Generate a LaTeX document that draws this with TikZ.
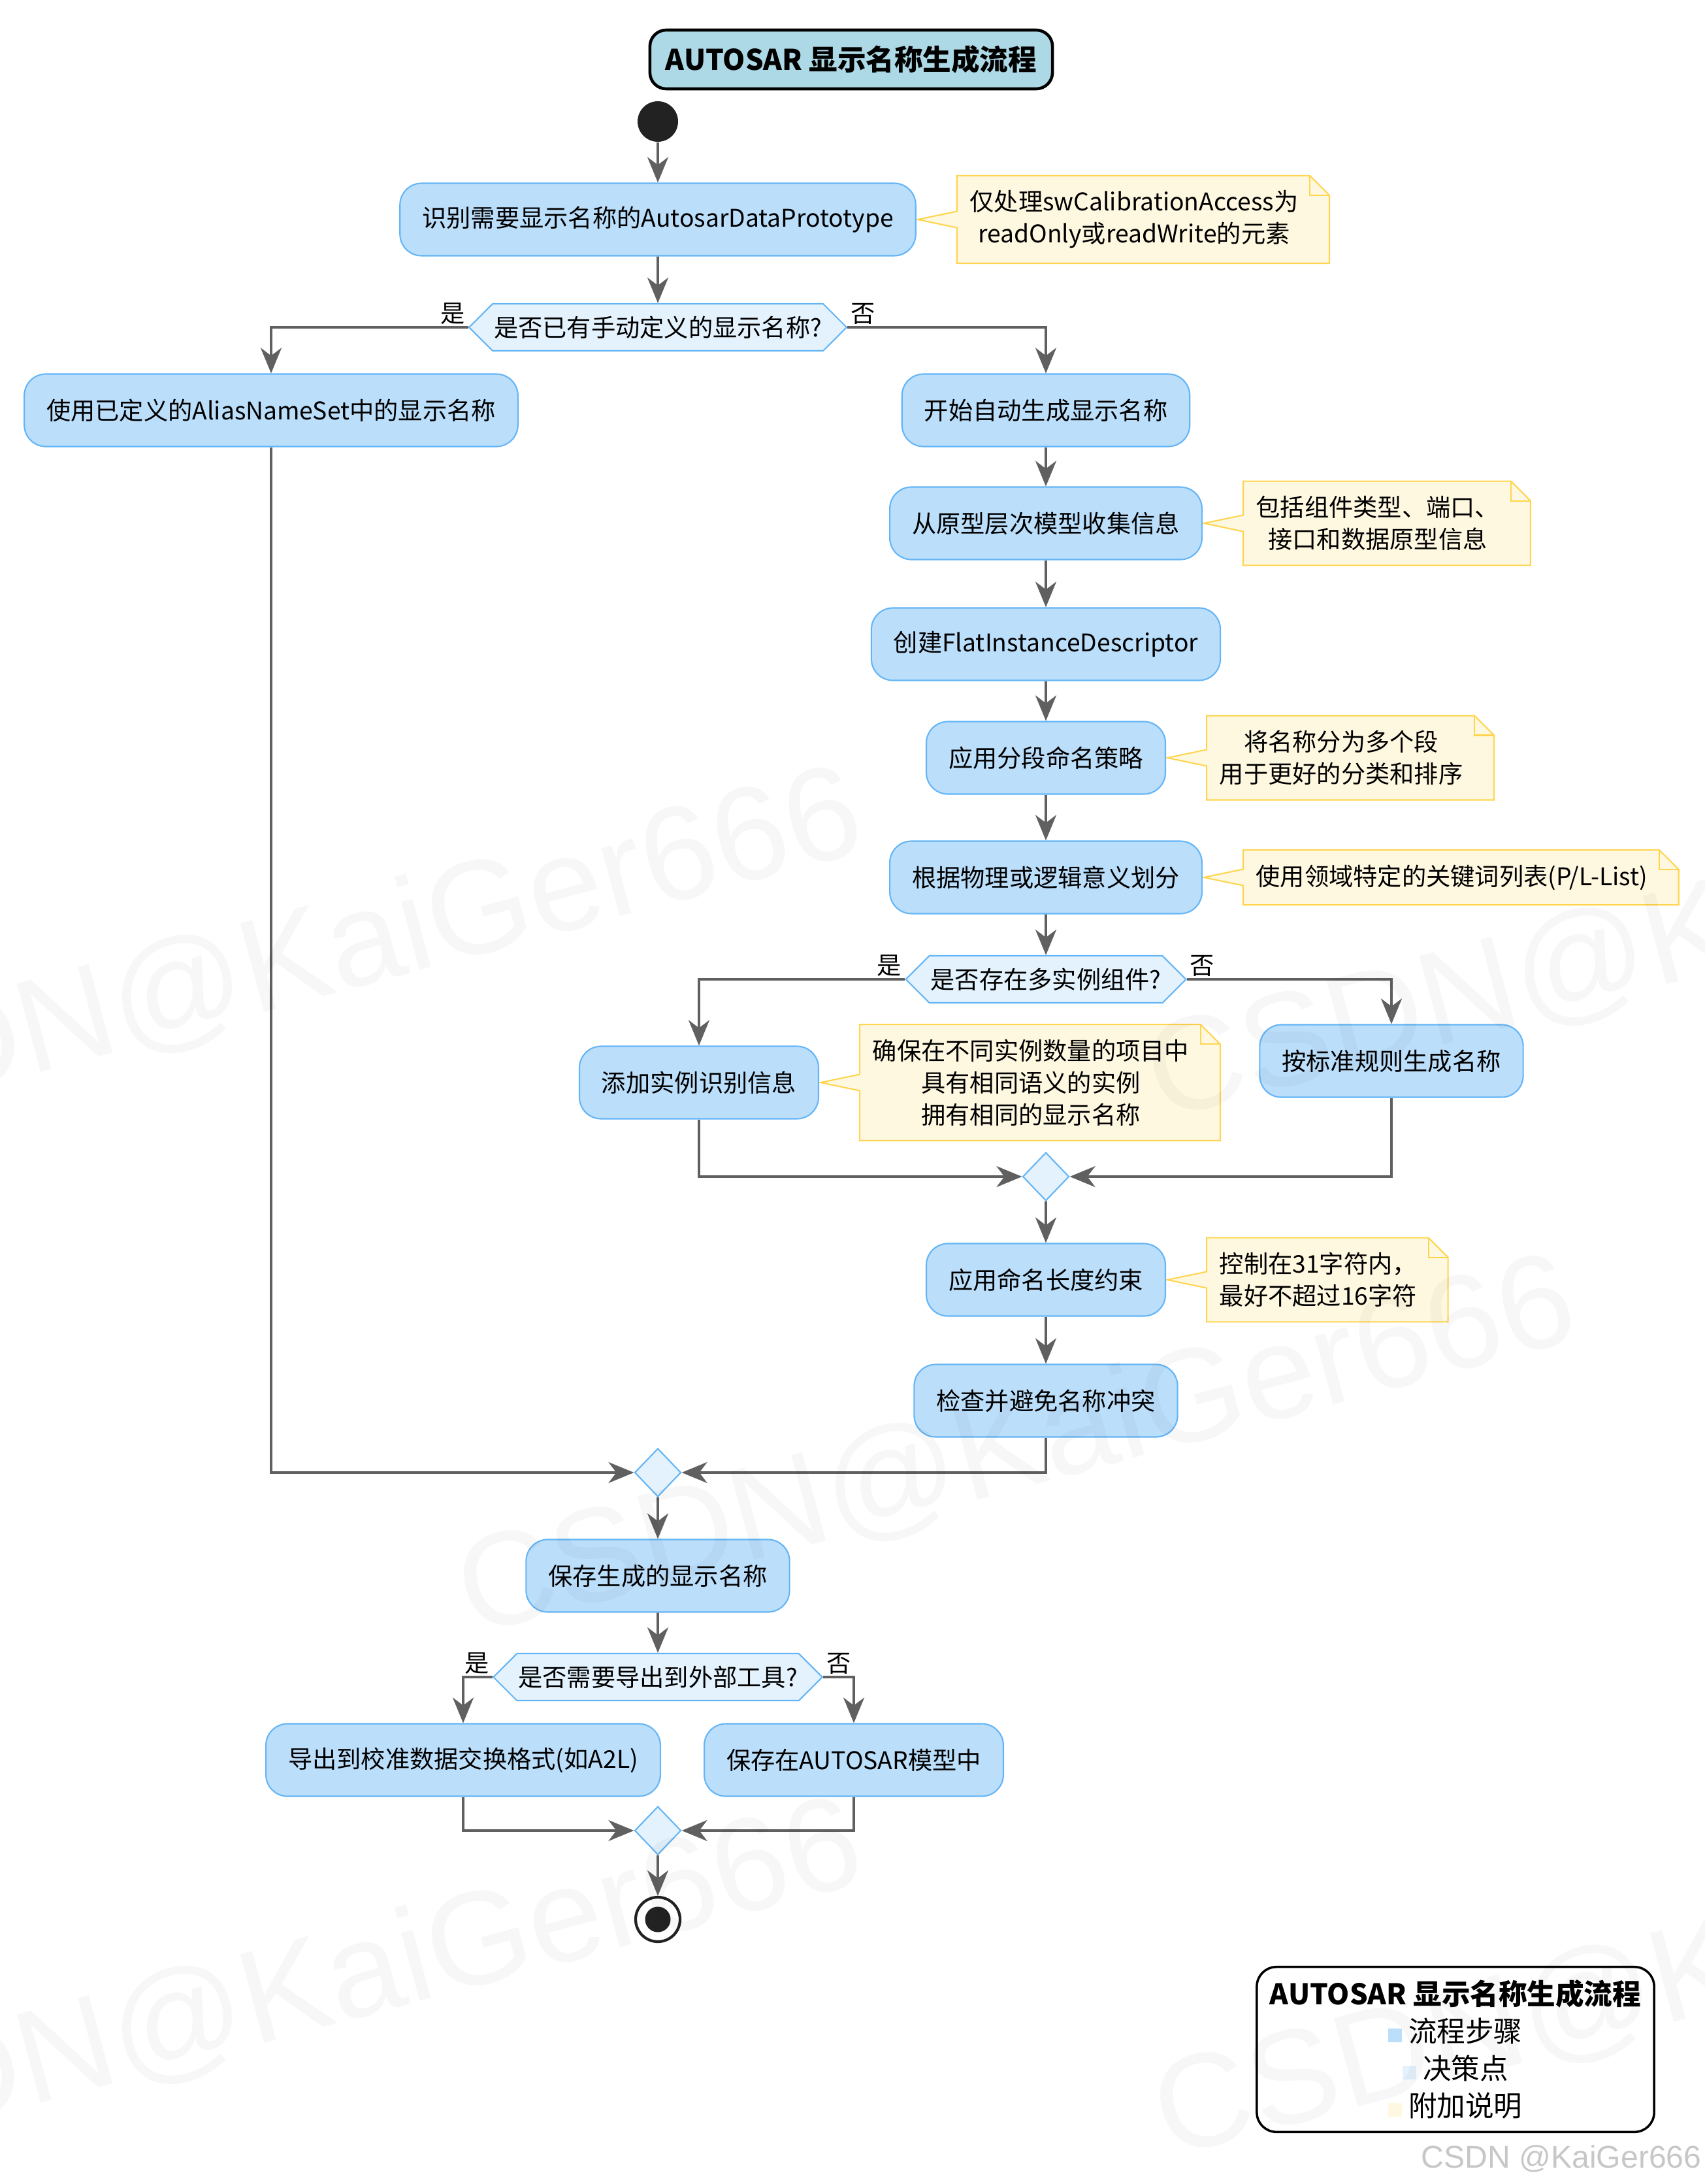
\documentclass[tikz,border=0pt]{standalone}
\usepackage{fontspec}
\setmainfont{Noto Sans CJK SC}
\newfontfamily\wmfont{Liberation Sans}
\usetikzlibrary{calc, backgrounds, positioning, shapes.geometric, shapes.symbols, arrows.meta}
\definecolor{actfill}{HTML}{BBDEFB}
\definecolor{actline}{HTML}{64B5F6}
\definecolor{decfill}{HTML}{E3F2FD}
\definecolor{notefill}{HTML}{FFF8E1}
\definecolor{noteline}{HTML}{FFD54F}
\definecolor{flowgray}{HTML}{606060}
\definecolor{titlefill}{HTML}{ADD8E6}
\definecolor{dotfill}{HTML}{222222}

\tikzset{
    act/.style={draw=actline, fill=actfill, line width=0.6pt, rounded corners=0.33cm,
        minimum height=1.11cm, inner xsep=0.34cm},
    decision/.style={signal, signal to=west and east, signal pointer angle=90,
        draw=actline, fill=decfill, line width=0.6pt, minimum height=0.72cm,
        inner xsep=0.02cm, inner ysep=0pt},
    merge/.style={diamond, draw=actline, fill=decfill, line width=0.6pt,
        minimum width=0.71cm, minimum height=0.74cm, inner sep=0pt},
    notetext/.style={align=center, inner xsep=0.19cm, inner ysep=0.22cm},
    flow/.style={draw=flowgray, line width=1.1pt,
        -{Stealth[length=0.39cm, width=0.32cm, inset=0.12cm]}},
    lbl/.style={inner sep=0.03cm},
    wmark/.style={font=\wmfont\fontsize{58pt}{58pt}\selectfont, text=black, text opacity=0.03, rotate=15},
}

% Notizzettel: Rechteck mit Eselsohr und Zeiger nach links
\newcommand{\notebody}[1]{%
    \filldraw[fill=notefill, draw=noteline, line width=0.6pt]
        (#1.north west) -- ($(#1.north east)+(-0.02,0)$) -- ($(#1.north east)+(0.28,-0.30)$)
        -- ($(#1.south east)+(0.28,0)$) -- (#1.south west) -- ($(#1.west)+(0,-0.125)$)
        -- ($(#1.west)+(-0.60,0)$) -- ($(#1.west)+(0,0.125)$) -- cycle;
    \draw[noteline, line width=0.6pt] ($(#1.north east)+(-0.02,0)$) |- ($(#1.north east)+(0.28,-0.30)$);
}

\begin{document}
\begin{tikzpicture}[font=\fontsize{10.6pt}{13.9pt}\selectfont]
\useasboundingbox (0,0) rectangle (26.10,-33.43);

% === Titel ===
\node[draw=black, line width=1.3pt, fill=titlefill, rounded corners=0.25cm,
      minimum height=0.9cm, inner xsep=0.24cm,
      font=\fontsize{12.4pt}{15pt}\selectfont\bfseries] (title) at (13.03,-0.91) {AUTOSAR 显示名称生成流程};

% === Hauptpfad ===
\node[circle, fill=dotfill, minimum size=0.62cm, inner sep=0pt] (start) at (10.07,-1.86) {};
\node[act] (identify) at (10.07,-3.36) {识别需要显示名称的AutosarDataPrototype};
\node[decision] (hasname) at (10.07,-5.01) {是否已有手动定义的显示名称?};
\node[act] (aliasname) at (4.15,-6.28) {使用已定义的AliasNameSet中的显示名称};
\node[act] (autogen) at (16.01,-6.28) {开始自动生成显示名称};
\node[act] (gather) at (16.01,-8.01) {从原型层次模型收集信息};
\node[act] (flatdesc) at (16.01,-9.86) {创建FlatInstanceDescriptor};
\node[act] (segment) at (16.01,-11.60) {应用分段命名策略};
\node[act] (physical) at (16.01,-13.43) {根据物理或逻辑意义划分};
\node[decision] (multi) at (16.01,-14.99) {是否存在多实例组件?};
\node[act] (addinst) at (10.70,-16.57) {添加实例识别信息};
\node[act] (stdrule) at (21.30,-16.24) {按标准规则生成名称};
\node[merge] (merge1) at (16.01,-18.01) {};
\node[act] (lenlimit) at (16.01,-19.59) {应用命名长度约束};
\node[act] (conflict) at (16.01,-21.44) {检查并避免名称冲突};
\node[merge] (merge2) at (10.07,-22.54) {};
\node[act] (savename) at (10.07,-24.12) {保存生成的显示名称};
\node[decision] (exportq) at (10.07,-25.67) {是否需要导出到外部工具?};
\node[act] (a2l) at (7.09,-26.94) {导出到校准数据交换格式(如A2L)};
\node[act] (keepmodel) at (13.07,-26.94) {保存在AUTOSAR模型中};
\node[merge] (merge3) at (10.07,-28.02) {};
\node[circle, draw=dotfill, line width=1.2pt, fill=white, minimum size=0.68cm, inner sep=0pt] (finish) at (10.07,-29.38) {};
\node[circle, fill=dotfill, minimum size=0.39cm, inner sep=0pt] (finishdot) at (finish) {};

% === Notizen ===
\node[notetext, right=0.62cm of identify] (nt1) {仅处理swCalibrationAccess为\\readOnly或readWrite的元素};
\node[notetext, right=0.62cm of gather] (nt2) {包括组件类型、端口、\\接口和数据原型信息};
\node[notetext, right=0.62cm of segment] (nt3) {将名称分为多个段\\用于更好的分类和排序};
\node[notetext, right=0.62cm of physical] (nt4) {使用领域特定的关键词列表(P/L-List)};
\node[notetext, right=0.62cm of addinst] (nt5) {确保在不同实例数量的项目中\\具有相同语义的实例\\拥有相同的显示名称};
\node[notetext, right=0.62cm of lenlimit] (nt6) {控制在31字符内，\\最好不超过16字符};
\begin{scope}[on background layer]
    \foreach \n in {nt1,nt2,nt3,nt4,nt5,nt6} {
        \notebody{\n}
    }
\end{scope}

% === Verbindungen ===
\draw[flow] (start) -- (identify);
\draw[flow] (identify) -- (hasname);
\draw[flow] (hasname.west) node[lbl, anchor=south east] {是} -| (aliasname.north);
\draw[flow] (hasname.east) node[lbl, anchor=south west] {否} -| (autogen.north);
\draw[flow] (autogen) -- (gather);
\draw[flow] (gather) -- (flatdesc);
\draw[flow] (flatdesc) -- (segment);
\draw[flow] (segment) -- (physical);
\draw[flow] (physical) -- (multi);
\draw[flow] (multi.west) node[lbl, anchor=south east] {是} -| (addinst.north);
\draw[flow] (multi.east) node[lbl, anchor=south west] {否} -| (stdrule.north);
\draw[flow] (addinst.south) |- (merge1.west);
\draw[flow] (stdrule.south) |- (merge1.east);
\draw[flow] (merge1) -- (lenlimit);
\draw[flow] (lenlimit) -- (conflict);
\draw[flow] (aliasname.south) |- (merge2.west);
\draw[flow] (conflict.south) |- (merge2.east);
\draw[flow] (merge2) -- (savename);
\draw[flow] (savename) -- (exportq);
\draw[flow] (exportq.west) node[lbl, anchor=south east] {是} -| (a2l.north);
\draw[flow] (exportq.east) node[lbl, anchor=south west] {否} -| (keepmodel.north);
\draw[flow] (a2l.south) |- (merge3.west);
\draw[flow] (keepmodel.south) |- (merge3.east);
\draw[flow] (merge3) -- (finish);

% === Legende ===
\node[draw=black, line width=1pt, rounded corners=0.3cm, align=center,
      inner xsep=0.2cm, inner ysep=0.2cm,
      font=\fontsize{12.4pt}{16.2pt}\selectfont] (legend) at (22.28,-31.37)
    {\textbf{AUTOSAR 显示名称生成流程}\\
     \textcolor{actfill}{\rule{0.21cm}{0.21cm}}\ 流程步骤\\
     \textcolor{decfill}{\rule{0.21cm}{0.21cm}}\ 决策点\\
     \textcolor{notefill}{\rule{0.21cm}{0.21cm}}\ 附加说明};

% === Wasserzeichen ===
\node[font=\wmfont\fontsize{13.7pt}{16pt}\selectfont, text=black!22] (wmtag) at (23.90,-33.04) {CSDN @KaiGer666};
\node[wmark] (wm1) at (4.65,-14.71) {CSDN@KaiGer666};
\node[wmark] (wm2) at (26.12,-14.29) {CSDN@KaiGer666};
\node[wmark] (wm3) at (15.57,-22.18) {CSDN@KaiGer666};
\node[wmark] (wm4) at (4.65,-30.49) {CSDN@KaiGer666};
\node[wmark] (wm5) at (26.23,-30.17) {CSDN@KaiGer666};

\end{tikzpicture}
\end{document}
